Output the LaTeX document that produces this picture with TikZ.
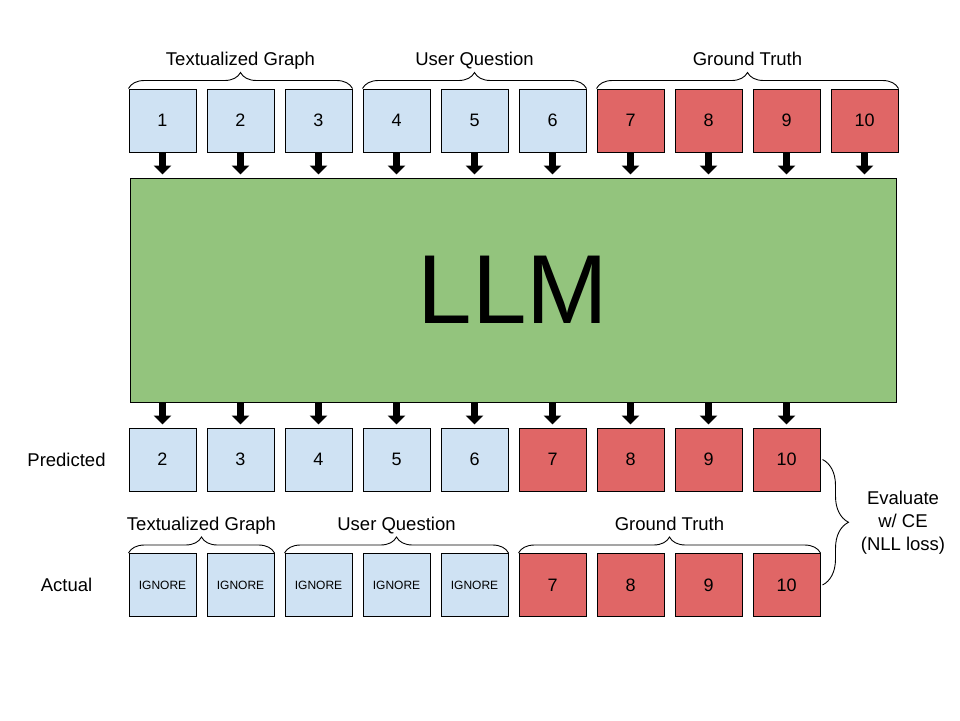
\documentclass[tikz,border=0pt]{standalone}
\usepackage{fontspec}
\setmainfont{Liberation Sans}
\usetikzlibrary{arrows.meta,decorations.pathreplacing,positioning}
\definecolor{tokblue}{RGB}{207,226,243}
\definecolor{truthred}{RGB}{224,102,102}
\definecolor{llmgreen}{RGB}{147,196,125}
\tikzset{
    tok/.style={draw, line width=1pt, fill=tokblue, minimum width=67pt, minimum height=63pt, inner sep=0pt, font=\fontsize{18}{21}\selectfont},
    truth/.style={tok, fill=truthred},
    feed/.style={line width=7pt, -{Triangle[width=17pt,length=9pt]}, shorten >=3pt},
    span/.style={decorate, decoration={brace, amplitude=#1}, line width=0.9pt},
    span/.default=16pt,
    lbl/.style={font=\fontsize{18.5}{23}\selectfont, align=center},
    spanlbl/.style={lbl, above=15pt, text height=13pt, text depth=4pt}
}
\begin{document}
\begin{tikzpicture}[x=1pt,y=1pt]
    \useasboundingbox (0,0) rectangle (960,-720);
    \node[draw, line width=1pt, fill=llmgreen, minimum width=766pt, minimum height=224pt, font=\fontsize{98}{98}\selectfont] (llm) at (513,-290) {LLM};
    \foreach \i in {1,...,6} \node[tok] (t\i) at ({162.5+78*(\i-1)},-120.5) {\i};
    \foreach \i in {7,...,10} \node[truth] (t\i) at ({162.5+78*(\i-1)},-120.5) {\i};
    \foreach \n [count=\i] in {2,...,6} \node[tok] (p\i) at ({162.5+78*(\i-1)},-459.5) {\n};
    \foreach \n [count=\i from 6] in {7,...,10} \node[truth] (p\i) at ({162.5+78*(\i-1)},-459.5) {\n};
    \foreach \i in {1,...,5} \node[tok, font=\fontsize{12}{14}\selectfont] (a\i) at ({162.5+78*(\i-1)},-585) {IGNORE};
    \foreach \n [count=\i from 6] in {7,...,10} \node[truth] (a\i) at ({162.5+78*(\i-1)},-585) {\n};
    \foreach \i in {1,...,10} \draw[feed] (t\i.south) -- (t\i |- llm.north);
    \foreach \i in {1,...,9} \draw[feed] (p\i |- llm.south) -- (p\i.north);
    \draw[span] (t1.north west) -- node[spanlbl] (graphtop) {Textualized Graph} (t3.north east);
    \draw[span] (t4.north west) -- node[spanlbl] (questiontop) {User Question} (t6.north east);
    \draw[span] (t7.north west) -- node[spanlbl] (truthtop) {Ground Truth} (t10.north east);
    \draw[span] (a1.north west) -- node[spanlbl] (graphbot) {Textualized Graph} (a2.north east);
    \draw[span] (a3.north west) -- node[spanlbl] (questionbot) {User Question} (a5.north east);
    \draw[span] (a6.north west) -- node[spanlbl] (truthbot) {Ground Truth} (a9.north east);
    \draw[span=26pt] ([xshift=2pt]p9.east) -- ([xshift=2pt]a9.east);
    \node[lbl] (evalnote) at (903,-523) {Evaluate\\w/ CE\\(NLL loss)};
    \node[lbl] (predlabel) at (66.5,0 |- p1) {Predicted};
    \node[lbl] (actlabel) at (66.5,0 |- a1) {Actual};
\end{tikzpicture}
\end{document}
